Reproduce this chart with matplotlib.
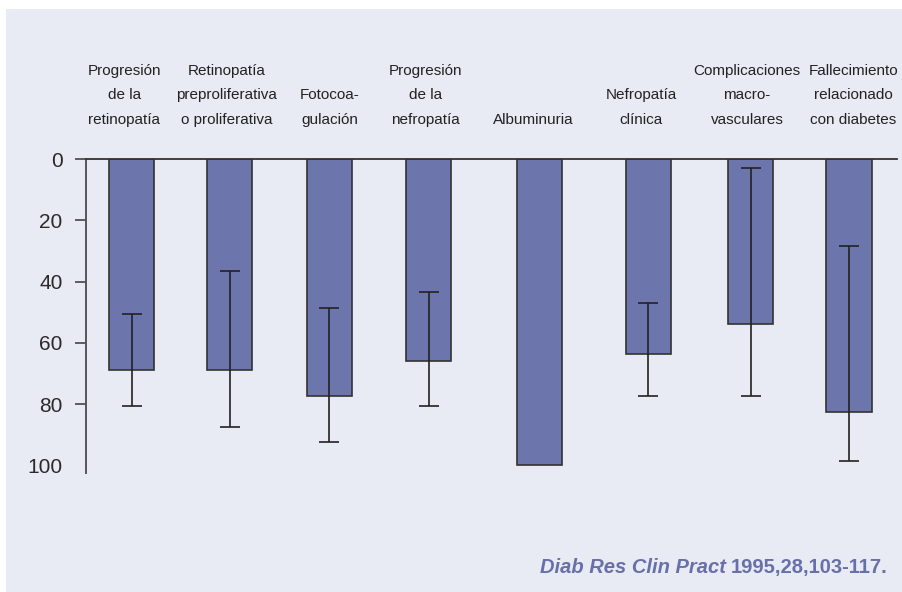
import matplotlib
matplotlib.use("Agg")
import matplotlib.pyplot as plt
from matplotlib.patches import Rectangle

# === Datos ===
categorias = [
    "Progresión\nde la\nretinopatía",
    "Retinopatía\npreproliferativa\no proliferativa",
    "Fotocoa-\ngulación",
    "Progresión\nde la\nnefropatía",
    "Albuminuria",
    "Nefropatía\nclínica",
    "Complicaciones\nmacro-\nvasculares",
    "Fallecimiento\nrelacionado\ncon diabetes",
]
valores = [69, 69, 77.5, 66, 100, 63.5, 54, 82.5]
ic_inf = [50.5, 36.5, 48.5, 43.5, None, 47, 3, 28.5]
ic_sup = [80.5, 87.5, 92.5, 80.5, None, 77.5, 77.5, 98.5]
yticks = [0, 20, 40, 60, 80, 100]
cita_revista = "Diab Res Clin Pract "
cita_datos = "1995,28,103-117."

# === Estilo ===
FONDO = "#E8EAF4"
BARRA = "#6C75AC"
TEXTO_CITA = "#6870AA"
xpos = [0, 0.96, 1.93, 2.9, 3.98, 5.04, 6.04, 7.0]
# desplazamiento de las etiquetas respecto a las barras
xlab = [-0.07, -0.03, 0.0, -0.03, -0.06, -0.07, -0.035, 0.04]

plt.rcParams["font.family"] = ["Liberation Sans", "DejaVu Sans"]

fig = plt.figure(figsize=(9.03, 5.92), dpi=100)
fig.patch.set_facecolor("white")
fig.patches.append(Rectangle((6 / 903, 0), 1, 1 - 9 / 592, transform=fig.transFigure,
                             facecolor=FONDO, edgecolor="none", zorder=-10))

ax = fig.add_axes([86 / 903, 1 - 473 / 592, (897 - 86) / 903, (473 - 159) / 592])
ax.set_facecolor("none")

ax.bar(xpos, valores, width=0.44, color=BARRA, edgecolor="#333333", linewidth=1.2, zorder=2)

# barras de error asimetricas (intervalo)
for x, v, lo, hi in zip(xpos, valores, ic_inf, ic_sup):
    if lo is None:
        continue
    ax.errorbar([x], [v], yerr=[[v - lo], [hi - v]], fmt="none", ecolor="#222222",
                elinewidth=1.2, capsize=7, capthick=1.2, zorder=3)

ax.set_xlim(-0.444, 7.468)
ax.set_ylim(102.5, 0)
ax.set_yticks(yticks)
ax.set_xticks([])
ax.tick_params(axis="y", length=8, width=1.2, color="#444444", pad=9,
               labelsize=15, labelcolor="#2a2a2a")
ax.yaxis.get_major_ticks()[-1].tick1line.set_visible(False)

for s in ["right", "bottom"]:
    ax.spines[s].set_visible(False)
ax.spines["left"].set_color("#555555")
ax.spines["left"].set_linewidth(1.4)
ax.spines["top"].set_color("#333333")
ax.spines["top"].set_linewidth(1.3)

for x, dx, lab in zip(xpos, xlab, categorias):
    ax.text(x + dx, -10.5, lab, ha="center", va="bottom", fontsize=11, color="#222222",
            linespacing=1.95, clip_on=False)

# referencia bibliografica
t2 = fig.text(888 / 903, 1 - 573 / 592, cita_datos, ha="right", va="baseline",
              fontsize=14.5, fontweight="bold", color=TEXTO_CITA)
ax.annotate(cita_revista, xy=(0, 0), xycoords=t2, ha="right", va="bottom",
            fontsize=14.5, fontweight="bold", fontstyle="italic", color=TEXTO_CITA,
            annotation_clip=False)

fig.savefig("out.png", dpi=100, facecolor=fig.get_facecolor())
